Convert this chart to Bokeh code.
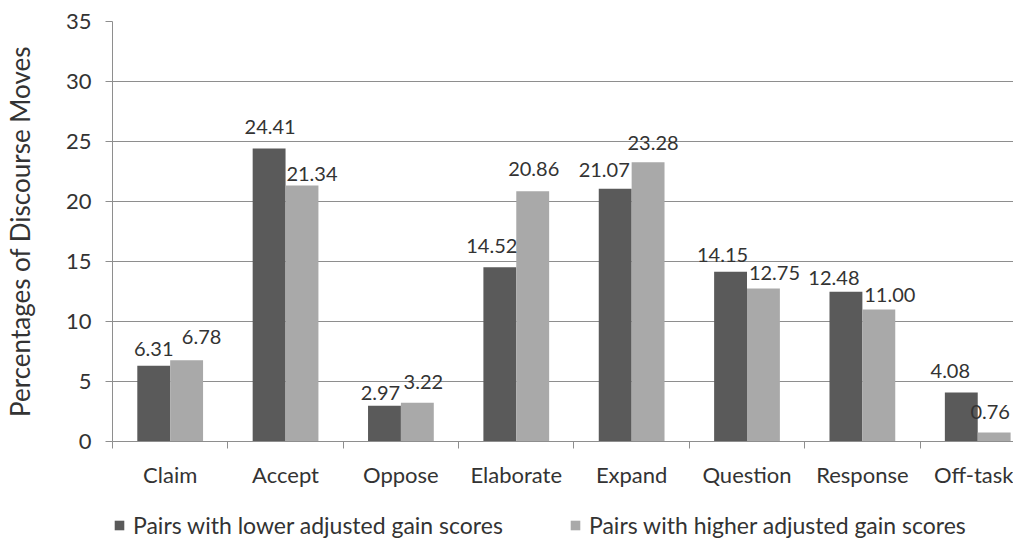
import numpy as np
from bokeh.plotting import figure
from bokeh.layouts import column
from bokeh.models import (ColumnDataSource, Range1d, FixedTicker, Legend, LegendItem,
                          LabelSet)
from bokeh.core.properties import value
from bokeh.embed import file_html
from bokeh.resources import INLINE

# ---------------- data ----------------
categories = ["Claim", "Accept", "Oppose", "Elaborate", "Expand", "Question", "Response", "Off-task"]
lower_gain = [6.31, 24.41, 2.97, 14.52, 21.07, 14.15, 12.48, 4.08]
higher_gain = [6.78, 21.34, 3.22, 20.86, 23.28, 12.75, 11.00, 0.76]
series_names = ["Pairs with lower adjusted gain scores", "Pairs with higher adjusted gain scores"]
y_ticks = [0, 5, 10, 15, 20, 25, 30, 35]
y_title = "Percentages of Discourse Moves"

# ---------------- style ----------------
FONT = "Lato"
DARK = "#5a5a5a"
LIGHT = "#a9a9a9"
GRID = "#8e8e8e"
TEXT = "#333333"
BAR_W = 0.285
# label nudges in pixels (style only)
lower_dx = [0, 1, -4, -8, -11, -8, -12, -11]
higher_dx = [15, 10, 6, 1, 5, 11, 11, -4]
lower_dy = [17, 22, 13, 21, 19, 17, 14, 22]
higher_dy = [23, 11, 21, 22, 19, 16, 15, 20]

idx = np.arange(len(categories))
src_low = ColumnDataSource(dict(
    x=idx + 0.5 - BAR_W / 2, top=lower_gain,
    txt=[f"{v:.2f}" for v in lower_gain], dx=lower_dx, dy=lower_dy))
src_high = ColumnDataSource(dict(
    x=idx + 0.5 + BAR_W / 2, top=higher_gain,
    txt=[f"{v:.2f}" for v in higher_gain], dx=higher_dx, dy=higher_dy))

p = figure(width=1013, height=505, output_backend="svg", toolbar_location=None,
           x_range=Range1d(0, 7.81), y_range=Range1d(0, 35),
           min_border_left=107, min_border_right=0, min_border_top=21, min_border_bottom=64)
p.outline_line_color = None
p.background_fill_color = "white"

r1 = p.vbar(x="x", top="top", width=BAR_W, bottom=0, source=src_low,
            fill_color=DARK, line_color=None)
r2 = p.vbar(x="x", top="top", width=BAR_W, bottom=0, source=src_high,
            fill_color=LIGHT, line_color=None)

for src in (src_low, src_high):
    p.add_layout(LabelSet(x="x", y="top", text="txt", source=src,
                          x_offset="dx", y_offset="dy",
                          text_align="center", text_baseline="middle",
                          text_font=value(FONT), text_font_size=value("20px"),
                          text_color=TEXT))

# grid
p.xgrid.visible = False
p.ygrid.grid_line_color = GRID
p.ygrid.grid_line_width = 1

# x axis
xa = p.xaxis[0]
xa.ticker = FixedTicker(ticks=[float(i) + 0.5 for i in idx],
                        minor_ticks=[float(i) for i in range(len(categories) + 1)])
xa.major_label_overrides = {float(i) + 0.5: c for i, c in enumerate(categories)}
xa.major_tick_line_color = None
xa.minor_tick_line_color = GRID
xa.minor_tick_out = 7
xa.minor_tick_in = 0
xa.axis_line_color = GRID
xa.major_label_standoff = 12
xa.major_label_text_font = FONT
xa.major_label_text_font_size = "22px"
xa.major_label_text_color = TEXT

# y axis
ya = p.yaxis[0]
ya.ticker = FixedTicker(ticks=y_ticks)
ya.major_tick_out = 7
ya.major_tick_in = 0
ya.major_tick_line_color = GRID
ya.minor_tick_line_color = None
ya.axis_line_color = GRID
ya.major_label_standoff = 14
ya.major_label_text_font = FONT
ya.major_label_text_font_size = "22px"
ya.major_label_text_color = TEXT
ya.axis_label = y_title
ya.axis_label_standoff = 27
ya.axis_label_text_font = FONT
ya.axis_label_text_font_size = "26px"
ya.axis_label_text_font_style = "normal"
ya.axis_label_text_color = TEXT

# ---------------- legend strip ----------------
# same series sources; the strip's ranges lie far away from the bars so only
# the legend swatches are drawn
leg = figure(width=1013, height=35, output_backend="svg", toolbar_location=None,
             x_axis_type=None, y_axis_type=None,
             x_range=Range1d(1000, 1001), y_range=Range1d(1000, 1001),
             min_border_left=0, min_border_right=0, min_border_top=0, min_border_bottom=0)
leg.outline_line_color = None
leg.xgrid.visible = False
leg.ygrid.visible = False
k1 = leg.vbar(x="x", top="top", width=BAR_W, bottom=0, source=src_low,
              fill_color=DARK, line_color=None)
k2 = leg.vbar(x="x", top="top", width=BAR_W, bottom=0, source=src_high,
              fill_color=LIGHT, line_color=None)

legend = Legend(items=[LegendItem(label=series_names[0], renderers=[k1]),
                       LegendItem(label=series_names[1], renderers=[k2])],
                orientation="horizontal", location=(1, 0),
                padding=0, margin=0, spacing=60,
                glyph_width=12, glyph_height=12, label_standoff=8,
                label_width=376, label_height=30,
                border_line_color=None, background_fill_alpha=0,
                label_text_font=FONT, label_text_font_size="23px",
                label_text_color=TEXT)
leg.add_layout(legend)

layout = column(p, leg, spacing=0)
open("out.html", "w").write(file_html(layout, INLINE))
